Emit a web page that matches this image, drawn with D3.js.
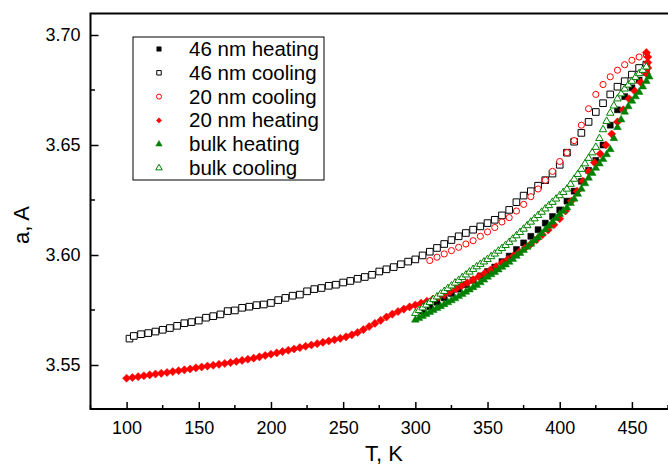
<!DOCTYPE html>
<html>
<head>
<meta charset="utf-8">
<script src="https://cdn.jsdelivr.net/npm/d3@7/dist/d3.min.js"></script>
<style>
  html, body { margin: 0; padding: 0; background: #fff; }
  svg { display: block; font-family: "Liberation Sans", Arial, sans-serif; }
</style>
</head>
<body>
<svg id="chart" width="668" height="466"></svg>
<script>
// ---------------- DATA ----------------
const xTicks = [100, 150, 200, 250, 300, 350, 400, 450];
const yTicks = [3.55, 3.60, 3.65, 3.70];
const yTickLabels = ["3.55", "3.60", "3.65", "3.70"];

const legendLabels = ["46 nm heating", "46 nm cooling", "20 nm cooling", "20 nm heating", "bulk heating", "bulk cooling"];

// 46 nm heating (black filled squares)
const t46heat = [305,310,315,320,325,330,335,340,345,350,355,360,365,370,375,380,385,390,395,400,405,410,415,420,425,430,435,440,445,450,455,460];
const a46heat = [3.5745,3.5765,3.5785,3.5805,3.5825,3.5845,3.5865,3.5885,3.5905,3.5925,3.5945,3.5970,3.5995,3.6025,3.6055,3.6085,3.6115,3.6145,3.6175,3.6205,3.6245,3.6290,3.6335,3.6385,3.6430,3.6500,3.6590,3.6660,3.6720,3.6760,3.6795,3.6830];

// 46 nm cooling (black open squares)
const t46cool = [102,105,110,115,120,125,130,135,140,145,150,155,160,165,170,175,180,185,190,195,200,205,210,215,220,225,230,235,240,245,250,255,260,265,270,275,280,285,290,295,300,305,310,315,320,325,330,335,340,345,350,355,360,365,370,375,380,385,390,395,400,405,410,415,420,425,430,435,440,445,450,455,460];
const a46cool = [3.5620,3.5632,3.5640,3.5645,3.5652,3.5660,3.5668,3.5678,3.5690,3.5695,3.5702,3.5715,3.5722,3.5730,3.5745,3.5748,3.5760,3.5765,3.5772,3.5775,3.5782,3.5795,3.5805,3.5815,3.5820,3.5835,3.5845,3.5850,3.5860,3.5865,3.5875,3.5882,3.5892,3.5900,3.5910,3.5925,3.5935,3.5945,3.5958,3.5970,3.5980,3.5998,3.6015,3.6032,3.6050,3.6068,3.6085,3.6100,3.6115,3.6130,3.6145,3.6160,3.6180,3.6205,3.6240,3.6270,3.6290,3.6315,3.6340,3.6370,3.6410,3.6465,3.6515,3.6555,3.6605,3.6650,3.6690,3.6730,3.6765,3.6790,3.6820,3.6850,3.6865];

// 20 nm cooling (red open circles)
const t20cool = [310,315,320,325,330,335,340,345,350,355,360,365,370,375,380,385,390,395,400,405,410,415,420,425,430,435,440,445,450,455,460];
const a20cool = [3.5975,3.5990,3.6005,3.6020,3.6035,3.6050,3.6065,3.6085,3.6105,3.6125,3.6150,3.6170,3.6200,3.6230,3.6265,3.6300,3.6340,3.6380,3.6425,3.6465,3.6520,3.6590,3.6665,3.6730,3.6775,3.6810,3.6840,3.6865,3.6885,3.6900,3.6910];

// 20 nm heating (red filled diamonds)
const t20heat = [100,104,108,112,116,120,124,128,132,136,140,144,148,152,156,160,164,168,172,176,180,184,188,192,196,200,204,208,212,216,220,224,228,232,236,240,244,248,252,256,260,264,268,272,276,280,284,288,292,296,300,304,308,312,316,320,324,328,332,336,340,344,348,352,356,360,364,368,372,376,380,384,388,392,396,400,404,408,412,416,420,424,428,432,436,440,444,448,452,456,460,461,461,461,460];
const a20heat = [3.5440,3.5443,3.5447,3.5451,3.5455,3.5459,3.5462,3.5466,3.5470,3.5474,3.5478,3.5482,3.5487,3.5491,3.5495,3.5499,3.5503,3.5507,3.5511,3.5516,3.5521,3.5526,3.5531,3.5537,3.5543,3.5549,3.5555,3.5561,3.5567,3.5573,3.5579,3.5585,3.5591,3.5597,3.5603,3.5609,3.5615,3.5621,3.5628,3.5637,3.5648,3.5661,3.5675,3.5689,3.5703,3.5718,3.5731,3.5743,3.5754,3.5764,3.5773,3.5781,3.5790,3.5799,3.5809,3.5820,3.5833,3.5846,3.5860,3.5874,3.5888,3.5902,3.5917,3.5932,3.5948,3.5964,3.5980,3.5997,3.6014,3.6032,3.6050,3.6070,3.6092,3.6114,3.6138,3.6165,3.6200,3.6245,3.6290,3.6335,3.6380,3.6420,3.6460,3.6500,3.6550,3.6605,3.6660,3.6710,3.6745,3.6785,3.6825,3.6850,3.6875,3.6900,3.6920];

// bulk heating (green filled triangles)
const tBulkHeat = [300,302.5,305,307.5,310,312.5,315,317.5,320,322.5,325,327.5,330,332.5,335,337.5,340,342.5,345,347.5,350,352.5,355,357.5,360,362.5,365,367.5,370,372.5,375,377.5,380,382.5,385,387.5,390,392.5,395,397.5,400,402.5,405,407.5,410,412.5,415,417.5,420,422.5,425,427.5,430,432.5,435,437.5,440,442.5,445,447.5,450,452.5,455,457.5,460,462];
const aBulkHeat = [3.5705,3.5713,3.5722,3.5731,3.5740,3.5749,3.5758,3.5766,3.5775,3.5784,3.5793,3.5802,3.5812,3.5822,3.5832,3.5842,3.5852,3.5863,3.5875,3.5887,3.5900,3.5911,3.5922,3.5933,3.5945,3.5956,3.5968,3.5981,3.5995,3.6008,3.6022,3.6036,3.6050,3.6065,3.6080,3.6097,3.6115,3.6132,3.6150,3.6167,3.6185,3.6200,3.6215,3.6235,3.6255,3.6277,3.6300,3.6325,3.6350,3.6372,3.6395,3.6415,3.6435,3.6457,3.6480,3.6530,3.6580,3.6615,3.6650,3.6675,3.6700,3.6720,3.6740,3.6765,3.6790,3.6810];

// bulk cooling (green open triangles)
const tBulkCool = [300,302.5,305,307.5,310,312.5,315,317.5,320,322.5,325,327.5,330,332.5,335,337.5,340,342.5,345,347.5,350,352.5,355,357.5,360,362.5,365,367.5,370,372.5,375,377.5,380,382.5,385,387.5,390,392.5,395,397.5,400,402.5,405,407.5,410,412.5,415,417.5,420,422.5,425,427.5,430,432.5,435,437.5,440,442.5,445,447.5,450,452.5,455,457.5,460];
const aBulkCool = [3.5735,3.5748,3.5760,3.5773,3.5785,3.5798,3.5810,3.5823,3.5835,3.5848,3.5860,3.5873,3.5885,3.5898,3.5910,3.5923,3.5935,3.5947,3.5958,3.5969,3.5980,3.5993,3.6005,3.6018,3.6030,3.6044,3.6058,3.6073,3.6088,3.6103,3.6118,3.6134,3.6150,3.6165,3.6180,3.6195,3.6210,3.6225,3.6240,3.6255,3.6270,3.6285,3.6300,3.6322,3.6345,3.6367,3.6390,3.6415,3.6440,3.6465,3.6490,3.6530,3.6570,3.6608,3.6645,3.6678,3.6710,3.6733,3.6755,3.6773,3.6790,3.6808,3.6825,3.6840,3.6855];

// ---------------- CHART ----------------
const svg = d3.select("#chart");
const x = d3.scaleLinear().domain([75, 475]).range([90.5, 668]);
const y = d3.scaleLinear().domain([3.53, 3.71]).range([409, 13]);

const GREEN = "#008000", RED = "#ff0000", BLACK = "#000000";

const series = [
  { t: t46heat,   a: a46heat,   shape: "square",   filled: true,  color: BLACK, size: 36 },
  { t: t46cool,   a: a46cool,   shape: "square",   filled: false, color: BLACK, size: 44 },
  { t: t20cool,   a: a20cool,   shape: "circle",   filled: false, color: RED,   size: 30 },
  { t: t20heat,   a: a20heat,   shape: "diamond",  filled: true,  color: RED,   size: 33 },
  { t: tBulkHeat, a: aBulkHeat, shape: "triangle", filled: true,  color: GREEN, size: 26 },
  { t: tBulkCool, a: aBulkCool, shape: "triangle", filled: false, color: GREEN, size: 24 }
];

function symPath(shape, size) {
  if (shape === "square" || shape === "diamond") return d3.symbol(d3.symbolSquare, size)();
  if (shape === "circle") return d3.symbol(d3.symbolCircle, size)();
  return d3.symbol(d3.symbolTriangle, size)();
}

const plot = svg.append("g");
series.forEach(s => {
  const pts = s.t.map((t, i) => [t, s.a[i]]);
  const p = symPath(s.shape, s.size);
  plot.append("g").selectAll("path").data(pts).join("path")
    .attr("d", p)
    .attr("transform", d => `translate(${x(d[0])},${y(d[1])})` + (s.shape === "diamond" ? " rotate(45)" : ""))
    .attr("fill", s.filled ? s.color : "#fff")
    .attr("stroke", s.color)
    .attr("stroke-width", s.filled ? 0.5 : 1);
});

// Axes (ticks inward)
const xAxis = d3.axisBottom(x).tickValues(xTicks).tickSize(-7).tickPadding(12).tickFormat(d3.format("d"));
const gx = svg.append("g").attr("transform", `translate(0,409)`).call(xAxis);
const yAxis = d3.axisLeft(y).tickValues(yTicks).tickSize(-8).tickPadding(10).tickFormat((d, i) => yTickLabels[i]);
const gy = svg.append("g").attr("transform", `translate(90.5,0)`).call(yAxis);

// minor ticks
const xMinor = [75,125,175,225,275,325,375,425,475];
svg.append("g").selectAll("line").data(xMinor).join("line")
  .attr("x1", d => x(d)).attr("x2", d => x(d)).attr("y1", 409).attr("y2", 405)
  .attr("stroke", "#000").attr("stroke-width", 1.5);
const yMinor = [3.575, 3.625, 3.675];
svg.append("g").selectAll("line").data(yMinor).join("line")
  .attr("x1", 90.5).attr("x2", 95).attr("y1", d => y(d)).attr("y2", d => y(d))
  .attr("stroke", "#000").attr("stroke-width", 1.5);

[gx, gy].forEach(g => {
  g.select(".domain").remove();
  g.selectAll(".tick line").attr("stroke", "#000").attr("stroke-width", 1.5);
  g.selectAll(".tick text").attr("fill", "#000").style("font-size", "18px")
    .style("font-family", "'Liberation Sans', Arial, sans-serif");
});

// frame
svg.append("path")
  .attr("d", `M670,13.5 H90.5 V409 H670`)
  .attr("fill", "none").attr("stroke", "#000").attr("stroke-width", 2);

// axis titles
svg.append("text").attr("x", 384).attr("y", 461).attr("text-anchor", "middle")
  .style("font-size", "22px").text("T, K");
svg.append("text").attr("transform", "translate(29,225) rotate(-90)").attr("text-anchor", "middle")
  .style("font-size", "22px").text("a, A");

// legend
const lg = svg.append("g");
lg.append("rect").attr("x", 133).attr("y", 37).attr("width", 191).attr("height", 143)
  .attr("fill", "#fff").attr("stroke", "#000").attr("stroke-width", 1);
series.forEach((s, i) => {
  const cy = 49 + i * 23.8;
  lg.append("path").attr("d", symPath(s.shape, s.shape === "triangle" ? 18 : (s.shape === "diamond" ? 14 : 20)))
    .attr("transform", `translate(159,${cy})` + (s.shape === "diamond" ? " rotate(45)" : ""))
    .attr("fill", s.filled ? s.color : "#fff").attr("stroke", s.color).attr("stroke-width", s.filled ? 0.5 : 1);
  lg.append("text").attr("x", 189).attr("y", cy + 7).style("font-size", "20.5px").text(legendLabels[i]);
});
</script>
</body>
</html>
